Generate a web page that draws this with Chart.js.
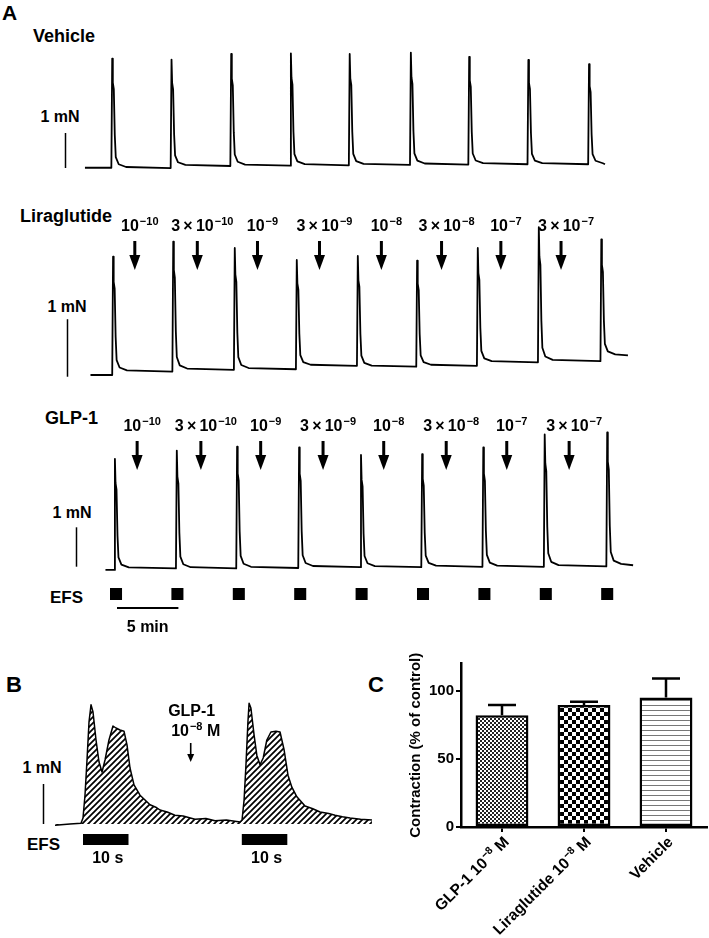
<!DOCTYPE html>
<html>
<head>
<meta charset="utf-8">
<script src="https://cdn.jsdelivr.net/npm/chart.js@4.4.1/dist/chart.umd.min.js"></script>
<style>
html, body { margin: 0; padding: 0; background: #fff; }
body { width: 709px; height: 938px; position: relative; overflow: hidden;
  font-family: "Liberation Sans", Arial, Helvetica, sans-serif; font-weight: bold; color: #000; }
canvas { position: absolute; }
.t { position: absolute; line-height: 1; white-space: nowrap; transform: translateY(-50%); }
.c { transform: translate(-50%, -50%); }
</style>
</head>
<body>
<div class="t" style="left:2px;top:12px;font-size:21px">A</div>
<div class="t" style="left:33px;top:36px;font-size:18px">Vehicle</div>
<div class="t c" style="left:60px;top:117px;font-size:16px">1 mN</div>
<div class="t" style="left:20px;top:216px;font-size:18px">Liraglutide</div>
<div class="t c" style="left:67px;top:307px;font-size:16px">1 mN</div>
<div class="t" style="left:45px;top:418px;font-size:18px">GLP-1</div>
<div class="t c" style="left:72px;top:513px;font-size:16px">1 mN</div>
<div class="t" style="left:50px;top:597px;font-size:17px">EFS</div>
<div class="t" style="left:6px;top:685px;font-size:22px">B</div>
<div class="t" style="left:368px;top:685px;font-size:22px">C</div>
<div class="t c" style="left:42px;top:768px;font-size:16px">1 mN</div>
<div class="t" style="left:27px;top:844px;font-size:17px">EFS</div>

<canvas id="veh" width="709" height="140" style="left:0;top:40px"></canvas>
<canvas id="lira" width="709" height="190" style="left:0;top:195px"></canvas>
<canvas id="glp" width="709" height="245" style="left:0;top:395px"></canvas>
<canvas id="traceB" width="380" height="180" style="left:0;top:690px"></canvas>
<canvas id="barC" width="329" height="298" style="left:380px;top:640px"></canvas>

<script>
const FONT = '"Liberation Sans", Arial, Helvetica, sans-serif';

// ---- panel A (time in min, force in mN) ----
const efsTimesA = [0, 5, 10, 15, 20, 25, 30, 35, 40];
const concMant = ['', '3', '', '3', '', '3', '', '3'];
const concExp = [-10, -10, -9, -9, -8, -8, -7, -7];

const vehRange = [-2.04, 40.31];
const vehSpikeT = [0.11, 4.94, 9.80, 14.66, 19.45, 24.43, 29.18, 34.00, 38.94];
const vehPeak = [3.07, 3.04, 3.20, 3.22, 3.20, 3.24, 3.12, 3.03, 2.91];
const vehBase = [-0.05, -0.06, 0.0, 0.01, 0.02, 0.03, 0.04, 0.05, 0.05, 0.05];

const liraRange = [-1.59, 42.18];
const liraSpikeT = [0.18, 5.08, 10.09, 15.14, 20.11, 24.94, 29.88, 34.85, 39.94];
const liraPeak = [2.06, 2.32, 2.21, 2.00, 2.07, 1.99, 2.21, 2.57, 2.36];
const liraBase = [0, 0.06, 0.09, 0.10, 0.16, 0.145, 0.16, 0.22, 0.24, 0.34];
const liraAddT = [2.02, 7.11, 12.01, 17.06, 22.10, 27.00, 31.83, 36.73];

const glpRange = [-0.37, 42.6];
const glpSpikeT = [0.33, 5.37, 10.28, 15.33, 20.37, 25.35, 30.33, 35.33, 40.42];
const glpPeak = [2.77, 2.98, 3.08, 3.06, 2.87, 2.89, 3.06, 3.39, 3.44];
const glpBase = [-0.05, -0.01, -0.01, 0.0, 0.02, 0.02, 0.03, 0.03, 0.04, 0.07];
const glpAddT = [2.21, 7.40, 12.27, 17.35, 22.29, 27.38, 32.31, 37.39];

// shape of one twitch: [min after onset, fraction of peak]
const spikeShape = [[0.07, 1], [0.12, 0.78], [0.2, 0.72], [0.28, 0.3], [0.36, 0.1], [0.6, 0.035], [1.2, 0.01]];

// ---- panel B (time in s, force in mN) ----
const efsTimesB = [0, 34.9];
const glpAddB = 23.67;
const bT = [-6.15, -2.86, -0.44, 0, 0.44, 0.88, 1.32, 1.76, 2.2, 2.86, 3.52, 4.18, 4.84, 5.71, 6.59, 7.25,
  8.13, 9.01, 9.67, 10.33, 11.21, 12.53, 14.73, 16.0, 16.92, 18.5, 20.2, 22.0, 24.6, 27.0, 29.0, 31.5, 34.5,
  34.95, 35.4, 35.8, 36.26, 36.5, 36.9, 37.6, 38.2, 38.9, 39.6, 40.4, 41.3, 42.4, 43.3, 44.2, 45.05, 45.9,
  47.0, 48.8, 50.5, 52.1, 54.0, 55.4, 57.0, 58.7, 61.0, 63.5];
const bF = [-0.03, 0, 0.02, 0.15, 0.72, 1.6, 2.55, 2.98, 2.8, 2.1, 1.55, 1.3, 1.6, 2.1, 2.45, 2.4,
  2.35, 2.32, 1.98, 1.4, 0.98, 0.72, 0.48, 0.42, 0.35, 0.3, 0.22, 0.2, 0.12, 0.14, 0.08, 0.1, 0.05,
  0.1, 0.6, 1.45, 2.58, 3.02, 2.9, 2.22, 1.72, 1.48, 1.65, 2.1, 2.3, 2.32, 2.3, 1.85, 1.22, 0.92,
  0.68, 0.45, 0.38, 0.3, 0.26, 0.22, 0.18, 0.15, 0.12, 0.1];

// ---- panel C ----
const cNames = ['GLP-1', 'Liraglutide', 'Vehicle'];
const cDoseExp = [-8, -8, null];
const cMeans = [82, 89.5, 95];
const cSem = [7.5, 2.5, 14];

Chart.defaults.font.family = FONT;
Chart.defaults.font.weight = 'bold';
Chart.defaults.color = '#000';

function buildTrace(range, spikeT, peak, base) {
  const pts = [{ x: range[0], y: base[0] }];
  spikeT.forEach((t, i) => {
    pts.push({ x: t, y: base[i] });
    const b = base[i + 1], h = peak[i] - b;
    spikeShape.forEach(s => pts.push({ x: t + s[0], y: b + s[1] * h }));
  });
  pts.push({ x: range[1], y: base[base.length - 1] });
  return pts;
}

function drawArrow(ctx, x, y0, y1, shaftW, headW, headH) {
  ctx.fillRect(x - shaftW / 2, y0, shaftW, y1 - y0 - headH + 1);
  ctx.beginPath();
  ctx.moveTo(x - headW / 2, y1 - headH);
  ctx.lineTo(x + headW / 2, y1 - headH);
  ctx.lineTo(x, y1);
  ctx.closePath();
  ctx.fill();
}

// "pre10^exp post" with a raised exponent, anchored by its centre (or right end)
function drawPow(ctx, ax, base, pre, exp, post, big, small, rise, alignRight) {
  const a = pre + '10';
  const e = '\u2212' + Math.abs(exp);
  ctx.font = 'bold ' + big + 'px ' + FONT;
  const wa = ctx.measureText(a).width;
  const wp = post ? ctx.measureText(post).width : 0;
  ctx.font = 'bold ' + small + 'px ' + FONT;
  const we = ctx.measureText(e).width;
  const total = wa + we + wp + 1;
  const x0 = alignRight ? ax - total : ax - total / 2;
  ctx.textAlign = 'left';
  ctx.textBaseline = 'alphabetic';
  ctx.font = 'bold ' + big + 'px ' + FONT;
  ctx.fillText(a, x0, base);
  if (post) ctx.fillText(post, x0 + wa + 1 + we, base);
  ctx.font = 'bold ' + small + 'px ' + FONT;
  ctx.fillText(e, x0 + wa + 1, base - rise);
}

function scaleBar(ctx, x, y, t, v0) {
  const bx = Math.round(x.getPixelForValue(t)) + 0.5;
  ctx.lineWidth = 1.5;
  ctx.beginPath();
  ctx.moveTo(bx, y.getPixelForValue(v0));
  ctx.lineTo(bx, y.getPixelForValue(v0 + 1));
  ctx.stroke();
}

function marksA(cfg) {
  return {
    id: 'marksA',
    afterDatasetsDraw(chart) {
      const { ctx, chartArea: area, scales: { x, y } } = chart;
      ctx.save();
      ctx.fillStyle = '#000';
      ctx.strokeStyle = '#000';
      scaleBar(ctx, x, y, cfg.barT, cfg.barV);
      if (cfg.addT) {
        cfg.addT.forEach((t, i) => {
          const ax = x.getPixelForValue(t);
          drawArrow(ctx, ax, area.top + 46, area.top + 75, 3, 11, 15);
          const pre = concMant[i] ? concMant[i] + '\u2009\u00d7\u2009' : '';
          drawPow(ctx, ax + 5, area.top + 36, pre, concExp[i], '', 16, 11, 6.5);
        });
      }
      if (cfg.efs) {
        efsTimesA.forEach(t => {
          const x0 = x.getPixelForValue(t);
          ctx.fillRect(x0, area.top + 193, x.getPixelForValue(t + 0.98) - x0, 12);
        });
        const m0 = x.getPixelForValue(0.57), m1 = x.getPixelForValue(5.57);
        ctx.lineWidth = 2;
        ctx.beginPath();
        ctx.moveTo(m0, area.top + 213);
        ctx.lineTo(m1, area.top + 213);
        ctx.stroke();
        ctx.font = 'bold 16px ' + FONT;
        ctx.textAlign = 'center';
        ctx.textBaseline = 'middle';
        ctx.fillText('5 min', (m0 + m1) / 2, area.top + 233);
      }
      ctx.restore();
    }
  };
}

const marksB = {
  id: 'marksB',
  afterDatasetsDraw(chart) {
    const { ctx, chartArea: area, scales: { x, y } } = chart;
    ctx.save();
    ctx.fillStyle = '#000';
    ctx.strokeStyle = '#000';
    scaleBar(ctx, x, y, -8.73, 0);
    const ax = x.getPixelForValue(glpAddB);
    drawArrow(ctx, ax, area.top + 53, area.top + 72, 1.6, 7, 8);
    ctx.font = 'bold 16px ' + FONT;
    ctx.textAlign = 'center';
    ctx.textBaseline = 'alphabetic';
    ctx.fillText('GLP-1', ax + 1, area.top + 26);
    drawPow(ctx, ax + 5, area.top + 46, '', -8, ' M', 16, 11, 6.5);
    efsTimesB.forEach(t => {
      const x0 = x.getPixelForValue(t), x1 = x.getPixelForValue(t + 10);
      ctx.fillRect(x0, area.top + 144, x1 - x0, 11);
      ctx.font = 'bold 16px ' + FONT;
      ctx.textAlign = 'center';
      ctx.textBaseline = 'middle';
      ctx.fillText('10 s', (x0 + x1) / 2 + 2, area.top + 168.5);
    });
    ctx.restore();
  }
};

// rotated category names with a real raised exponent
const labelsC = {
  id: 'labelsC',
  afterDraw(chart) {
    const { ctx } = chart;
    const xs = chart.scales.x;
    ctx.save();
    ctx.fillStyle = '#000';
    cNames.forEach((name, i) => {
      ctx.save();
      ctx.translate(xs.getPixelForTick(i) + 4, xs.top + 12);
      ctx.rotate(-Math.PI / 4);
      if (cDoseExp[i] === null) {
        ctx.font = 'bold 15.5px ' + FONT;
        ctx.textAlign = 'right';
        ctx.textBaseline = 'alphabetic';
        ctx.fillText(name, 0, 5.4);
      } else {
        drawPow(ctx, 0, 5.4, name + ' ', cDoseExp[i], ' M', 15.5, 10.5, 6, true);
      }
      ctx.restore();
    });
    ctx.restore();
  }
};

function pattern(kind) {
  const c = document.createElement('canvas');
  const g = c.getContext('2d');
  if (kind === 'fine') {
    c.width = c.height = 4;
    g.fillStyle = '#fff'; g.fillRect(0, 0, 4, 4);
    g.fillStyle = '#222'; g.fillRect(0, 0, 2, 2); g.fillRect(2, 2, 2, 2);
  } else if (kind === 'check') {
    c.width = c.height = 8;
    g.fillStyle = '#fff'; g.fillRect(0, 0, 8, 8);
    g.fillStyle = '#000'; g.fillRect(0, 0, 4, 4); g.fillRect(4, 4, 4, 4);
  } else if (kind === 'hlines') {
    c.width = 4; c.height = 5;
    g.fillStyle = '#fff'; g.fillRect(0, 0, 4, 5);
    g.fillStyle = '#777'; g.fillRect(0, 0, 4, 1);
  } else {
    c.width = c.height = 6;
    g.fillStyle = '#fff'; g.fillRect(0, 0, 6, 6);
    g.strokeStyle = '#000'; g.lineWidth = 1.7;
    g.beginPath();
    g.moveTo(-1, 7); g.lineTo(7, -1);
    g.moveTo(-4, 4); g.lineTo(4, -4);
    g.moveTo(2, 10); g.lineTo(10, 2);
    g.stroke();
  }
  return g.createPattern(c, 'repeat');
}

function traceChart(id, points, xr, yr, lineW, plugin, fillStyle) {
  return new Chart(document.getElementById(id), {
    type: 'line',
    data: {
      datasets: [{
        data: points,
        borderColor: '#000',
        borderWidth: lineW,
        borderJoinStyle: 'round',
        pointRadius: 0,
        tension: 0,
        fill: fillStyle ? 'origin' : false,
        backgroundColor: fillStyle || 'transparent'
      }]
    },
    options: {
      responsive: false,
      animation: false,
      events: [],
      layout: { padding: 0 },
      scales: {
        x: { type: 'linear', min: xr[0], max: xr[1], display: false },
        y: { min: yr[0], max: yr[1], display: false }
      },
      plugins: { legend: { display: false }, tooltip: { enabled: false } }
    },
    plugins: [plugin]
  });
}

const xA = [-8.958, 48.78];
traceChart('veh', buildTrace(vehRange, vehSpikeT, vehPeak, vehBase), xA, [-0.4, 3.6], 1.8,
  marksA({ barT: -3.66, barV: -0.057 }));
traceChart('lira', buildTrace(liraRange, liraSpikeT, liraPeak, liraBase), xA, [-0.1739, 3.1304], 1.8,
  marksA({ barT: -3.5, barV: -0.03, addT: liraAddT }));
traceChart('glp', buildTrace(glpRange, glpSpikeT, glpPeak, glpBase), xA, [-1.8274, 4.3909], 1.8,
  marksA({ barT: -2.77, barV: 0.033, addT: glpAddT, efs: true }));

const bPoints = bT.map((t, i) => ({ x: t, y: bF[i] }));
traceChart('traceB', bPoints, [-18.24, 65.27], [-1.15, 3.35], 1.5, marksB, pattern('hatch'));

const errorBars = {
  id: 'errorBars',
  afterDatasetsDraw(chart) {
    const { ctx } = chart;
    const y = chart.scales.y;
    ctx.save();
    ctx.strokeStyle = '#000';
    ctx.lineWidth = 2.5;
    chart.getDatasetMeta(0).data.forEach((bar, i) => {
      const top = y.getPixelForValue(cMeans[i] + cSem[i]);
      ctx.beginPath();
      ctx.moveTo(bar.x, bar.y);
      ctx.lineTo(bar.x, top);
      ctx.moveTo(bar.x - 14, top);
      ctx.lineTo(bar.x + 14, top);
      ctx.stroke();
    });
    ctx.restore();
  }
};

new Chart(document.getElementById('barC'), {
  type: 'bar',
  data: {
    labels: cNames,
    datasets: [{
      data: cMeans,
      backgroundColor: [pattern('fine'), pattern('check'), pattern('hlines')],
      borderColor: '#000',
      borderWidth: 2.5,
      borderSkipped: false,
      barPercentage: 0.645,
      categoryPercentage: 1
    }]
  },
  options: {
    responsive: false,
    animation: false,
    events: [],
    layout: { padding: { top: 23.5, right: 2, left: 0, bottom: 0 } },
    scales: {
      x: {
        grid: { display: true, drawOnChartArea: false, offset: false, tickLength: 5, lineWidth: 2, color: '#000' },
        border: { color: '#000', width: 2.5 },
        ticks: { minRotation: 45, maxRotation: 45, autoSkip: false, color: 'rgba(0,0,0,0)', font: { size: 15, weight: 'bold' } },
        afterFit(s) { s.height = 111; }
      },
      y: {
        min: 0,
        max: 120,
        ticks: { stepSize: 50, padding: 2, font: { size: 15, weight: 'bold' } },
        afterBuildTicks(s) { s.ticks = s.ticks.filter(t => t.value % 50 === 0); },
        grid: { display: true, drawOnChartArea: false, tickLength: 5, lineWidth: 2, color: '#000' },
        border: { color: '#000', width: 2.5 },
        title: { display: true, text: 'Contraction (% of control)', font: { size: 15, weight: 'bold' }, padding: { top: 27, bottom: 0 } },
        afterFit(s) { s.width = 81; }
      }
    },
    plugins: { legend: { display: false }, tooltip: { enabled: false } }
  },
  plugins: [errorBars, labelsC]
});
</script>
</body>
</html>
